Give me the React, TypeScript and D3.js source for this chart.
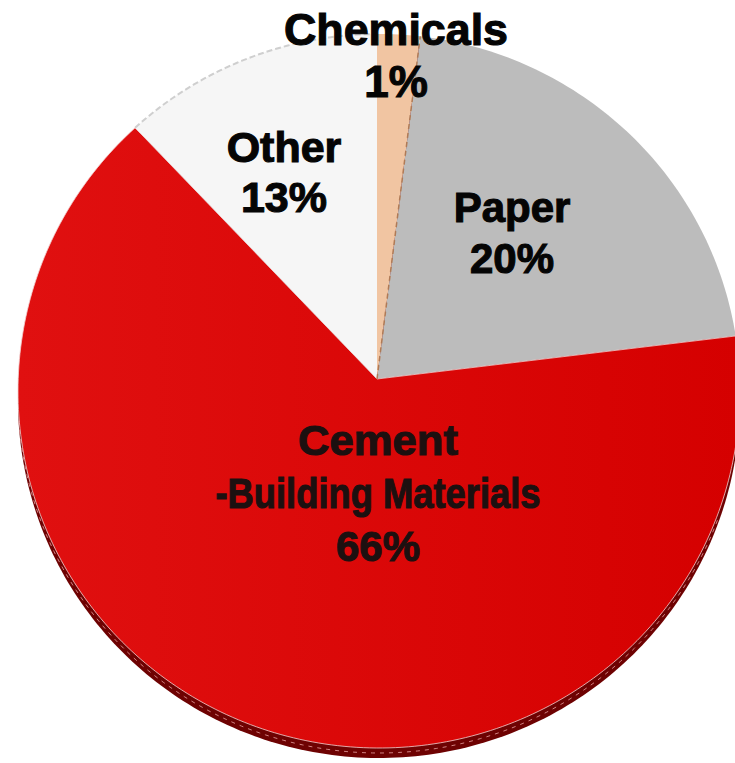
import React from 'react';
import * as d3 from 'd3';

// ---- data ----
const categories = ['Chemicals', 'Paper', 'Cement-Building Materials', 'Other'];
// slice shares as drawn in the picture (percent of the circle)
const shares = [2.0, 21.1, 64.7, 12.2];
const labelLines = [
  ['Chemicals', '1%'],
  ['Paper', '20%'],
  ['Cement', '-Building Materials', '66%'],
  ['Other', '13%'],
];

// ---- layout / style ----
const W = 735;
const H = 763;
const apex = { x: 377, y: 379 };
const ell = { cx: 379, cy: 391, rx: 361, ry: 357 };
const rimDrop = 10;
const sliceFill = ['#F1C5A2', '#BCBCBC', 'url(#redGrad)', '#F6F6F6'];
const labelLayout = [
  { x: 396, y: 45, dy: 52, size: 44 },
  { x: 512, y: 222, dy: 51, size: 42 },
  { x: 378, y: 455, dy: 53, size: 42 },
  { x: 284, y: 162, dy: 50, size: 43 },
];
const labelWidths: (number | null)[][] = [
  [224, null],
  [null, null],
  [160, 325, null],
  [null, null],
];

function rayHit(theta: number, dropY = 0) {
  const dx = Math.sin(theta);
  const dy = -Math.cos(theta);
  const u = (apex.x - ell.cx) / ell.rx;
  const v = (apex.y - ell.cy) / ell.ry;
  const du = dx / ell.rx;
  const dv = dy / ell.ry;
  const a = du * du + dv * dv;
  const b = 2 * (u * du + v * dv);
  const c = u * u + v * v - 1;
  const t = (-b + Math.sqrt(b * b - 4 * a * c)) / (2 * a);
  return [apex.x + t * dx, apex.y + t * dy + dropY] as [number, number];
}

export default function App() {
  const pie = d3
    .pie<number>()
    .sort(null)
    .value((d) => d)
    .startAngle(0)
    .endAngle(2 * Math.PI);
  const arcs = pie(shares);
  const line = d3.line<[number, number]>().x((d) => d[0]).y((d) => d[1]);

  const slicePath = (a0: number, a1: number) => {
    const n = Math.max(2, Math.ceil(((a1 - a0) * 180) / Math.PI));
    const pts: [number, number][] = [[apex.x, apex.y]];
    for (let i = 0; i <= n; i++) pts.push(rayHit(a0 + ((a1 - a0) * i) / n));
    return line(pts) + 'Z';
  };
  const outerArc = (a0: number, a1: number, drop = 0) => {
    const n = Math.max(2, Math.ceil(((a1 - a0) * 180) / Math.PI));
    const pts: [number, number][] = [];
    for (let i = 0; i <= n; i++) pts.push(rayHit(a0 + ((a1 - a0) * i) / n, drop));
    return line(pts) as string;
  };

  const rimPath = (() => {
    const pts: [number, number][] = [];
    for (let i = 0; i <= 360; i++) pts.push(rayHit((i * Math.PI) / 180, rimDrop));
    return line(pts) + 'Z';
  })();

  return (
    <svg
      width={W}
      height={H}
      viewBox={`0 0 ${W} ${H}`}
      style={{ position: 'absolute', left: 0, top: 0, background: '#ffffff' }}
    >
      <defs>
        <linearGradient id="redGrad" x1="0" y1="0" x2="1" y2="0">
          <stop offset="0" stopColor="#E01010" />
          <stop offset="1" stopColor="#D50000" />
        </linearGradient>
      </defs>
      <rect x={0} y={0} width={W} height={H} fill="#ffffff" />
      <path d={rimPath} fill="#6E0202" />
      {arcs.map((a, i) => (
        <path
          key={categories[i]}
          d={slicePath(a.startAngle, a.endAngle)}
          fill={sliceFill[i]}
          stroke={i === 2 ? '#f3d0d0' : 'none'}
          strokeWidth={0.8}
        />
      ))}
      {/* faint grey edge on the light slice */}
      <path
        d={outerArc(arcs[3].startAngle, arcs[3].endAngle)}
        fill="none"
        stroke="#cfcfcf"
        strokeWidth={2}
        strokeDasharray="6 3"
      />
      {/* dashed seam between chemicals and paper */}
      <path
        d={line([[apex.x, apex.y], rayHit(arcs[1].startAngle)]) as string}
        fill="none"
        stroke="#B07A55"
        strokeWidth={1.5}
        strokeDasharray="5 4"
      />
      {/* light seam on the rim */}
      <path
        d={outerArc(arcs[2].startAngle + 0.5, arcs[2].endAngle - 0.9, rimDrop - 5)}
        fill="none"
        stroke="#e8a0a0"
        strokeWidth={1}
        strokeDasharray="4 5"
        opacity={0.8}
      />
      {labelLines.map((lines, i) => {
        const L = labelLayout[i];
        const col = i === 2 ? '#1c1010' : '#050505';
        return (
          <text
            key={categories[i]}
            x={L.x}
            y={L.y}
            textAnchor="middle"
            fontFamily="'Liberation Sans', Arial, Helvetica, sans-serif"
            fontWeight="bold"
            fontSize={L.size}
            fill={col}
            stroke={col}
            strokeWidth={1.1}
          >
            {lines.map((s, j) => {
              const w = labelWidths[i][j];
              return (
                <tspan
                  key={j}
                  x={L.x}
                  y={L.y + j * L.dy}
                  {...(w ? { textLength: w, lengthAdjust: 'spacingAndGlyphs' } : {})}
                >
                  {s}
                </tspan>
              );
            })}
          </text>
        );
      })}
    </svg>
  );
}
